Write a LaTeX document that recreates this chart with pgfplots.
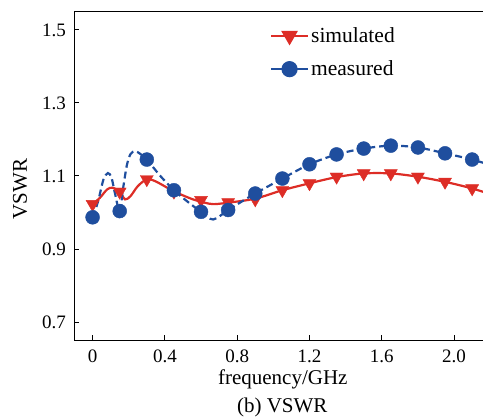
\documentclass[border=0pt]{standalone}
\usepackage{fontspec}
\setmainfont{Liberation Serif}
\usepackage{pgfplots}
\pgfplotsset{compat=1.18}
\usetikzlibrary{calc}
\definecolor{simred}{RGB}{221,45,38}
\definecolor{measblue}{RGB}{31,78,158}
\begin{document}
\begin{tikzpicture}
\begin{axis}[
 name=ax,
 scale only axis, width=408.5pt, height=329pt,
 xmin=-0.1, xmax=2.16, ymin=0.65, ymax=1.55,
 axis x line*=box, axis y line*=left,
 xtick={0,0.4,0.8,1.2,1.6,2.0}, xticklabels={0,0.4,0.8,1.2,1.6,2.0},
 ytick={0.7,0.9,1.1,1.3,1.5}, yticklabels={0.7,0.9,1.1,1.3,1.5},
 xtick pos=bottom, ytick pos=left,
 tick align=inside, major tick length=5pt,
 tick style={line width=1pt, black},
 axis line style={line width=1.3pt},
 /pgf/number format/assume math mode=true,
 ticklabel style={font=\fontsize{19}{19}\selectfont},
 xticklabel style={anchor=base, yshift=-22.5pt, inner sep=0pt},
 yticklabel style={anchor=base east, xshift=-8.5pt, yshift=-6.3pt, inner sep=0pt},
 xlabel={frequency/GHz}, ylabel={VSWR},
 label style={font=\fontsize{21}{21}\selectfont},
 xlabel style={at={(axis description cs:0.51,0)}, anchor=base, yshift=-44.5pt},
 ylabel style={at={(axis description cs:-0.1334,0.4605)}, anchor=center},
 legend style={at={(0.478,0.958)}, anchor=north west, draw=none, fill=none,
   font=\fontsize{21.5}{21.5}\selectfont, row sep=13pt, inner sep=0pt,
   /tikz/every even column/.append style={column sep=19pt}},
 legend cell align=left,
 legend image code/.code={\draw[mark repeat=2,mark phase=2] plot coordinates {(0cm,0cm) (0.65cm,0cm) (1.3cm,0cm)};},
]
\addlegendimage{simred, line width=2.2pt, mark=triangle*, mark options={rotate=180, solid}, mark size=7.5pt}
\addlegendentry{simulated}
\addlegendimage{measblue, line width=2.2pt, mark=*, mark options={solid}, mark size=7pt}
\addlegendentry{measured}

% simulated curve
\addplot[forget plot, simred, line width=2.2pt, smooth, tension=0.5] coordinates {
(0,1.023) (0.04,1.04) (0.08,1.063) (0.11,1.068) (0.15,1.057) (0.18,1.036)
(0.21,1.045) (0.25,1.072) (0.3,1.091) (0.35,1.085) (0.45,1.058) (0.55,1.037)
(0.62,1.027) (0.67,1.023) (0.75,1.027) (0.9,1.038) (1.05,1.061) (1.2,1.080)
(1.35,1.097) (1.5,1.107) (1.65,1.107) (1.8,1.098) (1.95,1.084) (2.1,1.066) (2.2,1.05)};
% measured curve
\addplot[forget plot, measblue, line width=2.2pt, dash pattern=on 7pt off 4pt, smooth, tension=0.5] coordinates {
(0,0.987) (0.03,1.03) (0.06,1.09) (0.085,1.108) (0.105,1.095) (0.125,1.05) (0.15,1.004)
(0.17,1.07) (0.19,1.13) (0.21,1.16) (0.235,1.168) (0.265,1.16) (0.3,1.145) (0.375,1.1)
(0.45,1.061) (0.525,1.03) (0.6,1.002) (0.667,0.981) (0.75,1.007) (0.825,1.03) (0.9,1.052)
(1.05,1.093) (1.2,1.132) (1.35,1.159) (1.5,1.175) (1.65,1.183) (1.8,1.178) (1.95,1.162)
(2.1,1.145) (2.2,1.13)};
% simulated markers
\addplot[forget plot, only marks, simred, mark=triangle*, mark options={rotate=180}, mark size=7.5pt] coordinates {
(0,1.023) (0.15,1.057) (0.3,1.091) (0.45,1.057) (0.6,1.034) (0.75,1.028) (0.9,1.036)
(1.05,1.061) (1.2,1.080) (1.35,1.098) (1.5,1.107) (1.65,1.107) (1.8,1.098) (1.95,1.084) (2.1,1.066)};
% measured markers
\addplot[forget plot, only marks, measblue, mark=*, mark size=7pt] coordinates {
(0,0.987) (0.15,1.004) (0.3,1.145) (0.45,1.061) (0.6,1.002) (0.75,1.007) (0.9,1.052)
(1.05,1.093) (1.2,1.132) (1.35,1.159) (1.5,1.175) (1.65,1.183) (1.8,1.178) (1.95,1.162) (2.1,1.145)};
\end{axis}
\node[font=\fontsize{21}{21}\selectfont, anchor=base] at ($(ax.south)+(3.5pt,-72.5pt)$) {(b) VSWR};
\pgfresetboundingbox
\path ($(ax.south west)+(-74.5pt,-78.5pt)$) rectangle ($(ax.north east)+(0pt,11.5pt)$);
\end{tikzpicture}
\end{document}
